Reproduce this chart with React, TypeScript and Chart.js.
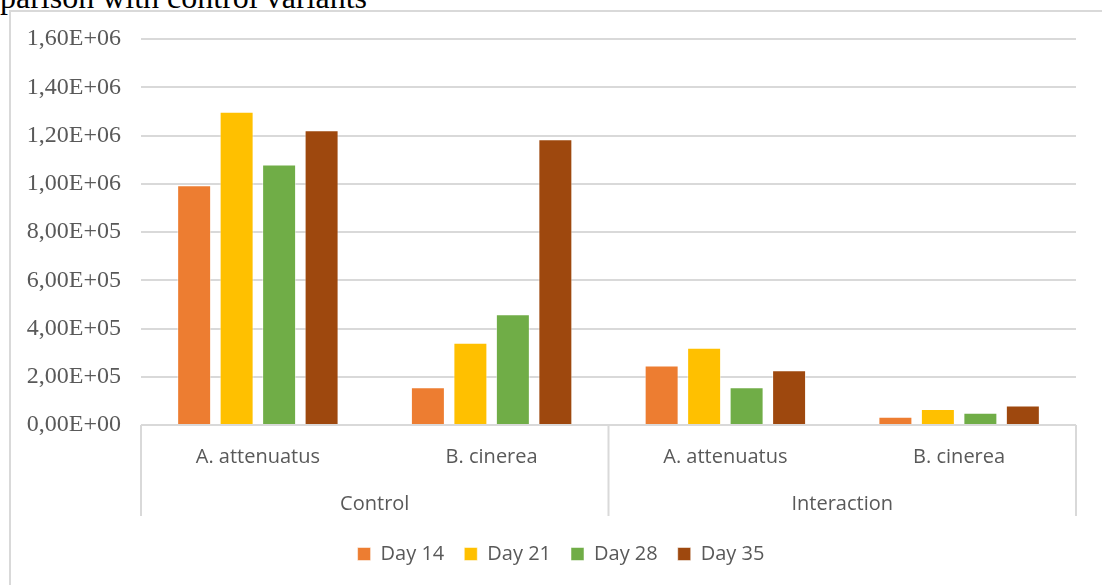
import React, { useEffect, useRef } from "react";
import { Chart, registerables } from "chart.js";

Chart.register(...registerables);

const categories = ["A. attenuatus", "B. cinerea", "A. attenuatus", "B. cinerea"];
const groups = ["Control", "Interaction"];
const seriesNames = ["Day 14", "Day 21", "Day 28", "Day 35"];
const day14 = [994000, 156000, 247000, 34000];
const day21 = [1298000, 341000, 320000, 66000];
const day28 = [1080000, 459000, 156000, 51000];
const day35 = [1222000, 1184000, 227000, 81000];
const seriesColors = ["#ED7D31", "#FFC000", "#70AD47", "#9E480E"];
const yMin = 0;
const yMax = 1600000;
const yStep = 200000;

function formatSci(v: number): string {
  if (v === 0) return "0,00E+00";
  const exp = Math.floor(Math.log10(Math.abs(v)) + 1e-9);
  const m = v / Math.pow(10, exp);
  const sign = exp < 0 ? "-" : "+";
  const e = String(Math.abs(exp)).padStart(2, "0");
  return m.toFixed(2).replace(".", ",") + "E" + sign + e;
}

const legendShiftPlugin = {
  id: "legendShift",
  afterLayout(chart: any) {
    if (chart.legend) {
      chart.legend.left += 46;
    }
  },
};

const groupAxisPlugin = {
  id: "groupAxis",
  afterDraw(chart: any) {
    const { ctx, chartArea, scales } = chart;
    const x = scales.x;
    const n = categories.length;
    const per = n / groups.length;
    const catW = (chartArea.right - chartArea.left) / n;
    const top = chartArea.bottom;
    const bottom = top + 91;
    ctx.save();
    ctx.strokeStyle = "#d9d9d9";
    ctx.lineWidth = 2;
    for (let g = 0; g <= groups.length; g++) {
      let px: number;
      if (g === 0) px = chartArea.left;
      else if (g === groups.length) px = chartArea.right;
      else px = (x.getPixelForValue(g * per - 1) + x.getPixelForValue(g * per)) / 2;
      ctx.beginPath();
      ctx.moveTo(px, top);
      ctx.lineTo(px, bottom);
      ctx.stroke();
    }
    ctx.fillStyle = "#595959";
    ctx.font = '20px "Open Sans"';
    ctx.textAlign = "center";
    ctx.textBaseline = "middle";
    groups.forEach((gName, g) => {
      const a = x.getPixelForValue(g * per) - catW / 2;
      const b = x.getPixelForValue(g * per + per - 1) + catW / 2;
      ctx.fillText(gName, (a + b) / 2, top + 79);
    });
    ctx.restore();
  },
};

export default function App() {
  const ref = useRef<HTMLCanvasElement | null>(null);
  useEffect(() => {
    if (!ref.current) return;
    const seriesData = [day14, day21, day28, day35];
    const chart = new Chart(ref.current, {
      type: "bar",
      data: {
        labels: categories,
        datasets: seriesNames.map((name, i) => ({
          label: name,
          data: seriesData[i],
          backgroundColor: seriesColors[i],
          borderColor: "rgba(255,255,255,0.5)",
          borderWidth: 1,
          categoryPercentage: 0.727,
          barPercentage: 0.8,
        })),
      },
      options: {
        responsive: false,
        animation: false,
        devicePixelRatio: 1,
        layout: { padding: { left: 0, right: 26, top: 39, bottom: 11 } },
        plugins: {
          tooltip: { enabled: false },
          title: { display: false },
          legend: {
            display: true,
            position: "bottom",
            labels: {
              boxWidth: 13,
              boxHeight: 13,
              padding: 20,
              color: "#595959",
              font: { family: '"Open Sans"', size: 20 },
            },
          },
        },
        scales: {
          x: {
            grid: { display: false, drawTicks: false },
            border: { display: false },
            ticks: {
              color: "#595959",
              font: { family: '"Open Sans"', size: 20 },
              padding: 20,
              maxRotation: 0,
            },
            afterFit(scale: any) {
              scale.height = 99;
            },
          },
          y: {
            min: yMin,
            max: yMax,
            grid: { color: "#d9d9d9", lineWidth: 2, drawTicks: false },
            border: { display: false },
            ticks: {
              stepSize: yStep,
              padding: 20,
              color: "#595959",
              font: { family: '"Liberation Serif"', size: 24 },
              callback: (v: any) => formatSci(Number(v)),
            },
            afterFit(scale: any) {
              scale.width = 141;
            },
          },
        },
      },
      plugins: [legendShiftPlugin, groupAxisPlugin],
    });
    return () => chart.destroy();
  }, []);

  return (
    <div
      style={{
        position: "fixed",
        left: 0,
        top: 0,
        width: 1102,
        height: 585,
        overflow: "hidden",
        background: "#ffffff",
      }}
    >
      <div
        style={{
          position: "absolute",
          left: 0,
          top: -19,
          fontFamily: '"Liberation Serif"',
          fontSize: 32,
          lineHeight: "32px",
          color: "#000000",
          whiteSpace: "nowrap",
        }}
      >
        parison with control variants
      </div>
      <div
        style={{
          position: "absolute",
          left: 9,
          top: 10,
          width: 2000,
          height: 2000,
          borderLeft: "2px solid #d9d9d9",
          borderTop: "2px solid #d9d9d9",
        }}
      />
      <canvas
        ref={ref}
        width={1102}
        height={585}
        style={{ position: "absolute", left: 0, top: 0, width: 1102, height: 585 }}
      />
    </div>
  );
}
